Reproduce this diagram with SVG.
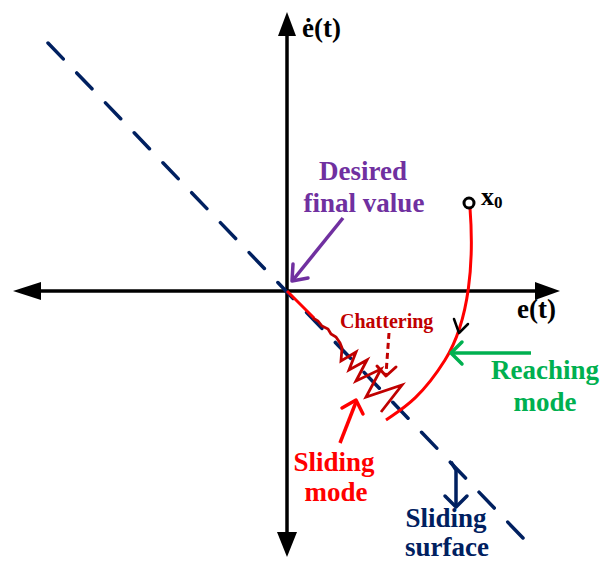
<svg xmlns="http://www.w3.org/2000/svg" width="601" height="562" viewBox="0 0 601 562">
<style>
.lbl{font-family:"Liberation Serif","Times New Roman",serif;font-weight:bold;font-size:27px}
.ax{stroke:#000;stroke-width:3.5;fill:none}
.head{fill:#000}
.chev{fill:none;stroke-linecap:round;stroke-linejoin:round}
</style>
<rect width="601" height="562" fill="#fff"/>
<g id="axes">
<line class="ax" x1="38" y1="291" x2="537" y2="291"/>
<line class="ax" x1="287" y1="34" x2="287" y2="534"/>
<polygon class="head" points="13,291 41,282 41,300"/>
<polygon class="head" points="560,291 535,282 535,300"/>
<polygon class="head" points="287,12 278,36 296,36"/>
<polygon class="head" points="287,557 277,532 297,532"/>
</g>
<g id="sliding-surface-line">
<line x1="48" y1="43" x2="523" y2="538" stroke="#002060" stroke-width="3.5" stroke-linecap="round" stroke-dasharray="22 19.5"/>
</g>
<g id="connectors">
<path d="M470,208 C474,260 470,320 445,360 S400,410 386,420" fill="none" stroke="#ff0000" stroke-width="3"/>
<path class="chev" d="M454,319 L459,333 L468,324" stroke="#000" stroke-width="2.5"/>
<line x1="287" y1="291" x2="314" y2="318" stroke="#ff0000" stroke-width="3"/>
<polyline fill="none" stroke="#c00000" stroke-width="2.8" stroke-linejoin="miter" points="313,318 318,321 322,326 328,329 331,334 336,337 340,343 342,348 341,361 356,352 349,370 367,360 356,381 381,369 366,397 402,385 381,412"/>
<path d="M343,218 L293,280" stroke="#7030a0" stroke-width="3.5" fill="none"/>
<path class="chev" d="M293,264 L292,281 L308,278" stroke="#7030a0" stroke-width="3.5"/>
<path d="M531,353 L452,353" stroke="#00b050" stroke-width="3.5" fill="none"/>
<path class="chev" d="M462,342 L451,353 L462,364" stroke="#00b050" stroke-width="3.5"/>
<path d="M340,443 L356,402" stroke="#ff0000" stroke-width="3.5" fill="none"/>
<path class="chev" d="M342,408 L356,400 L363,414" stroke="#ff0000" stroke-width="3.5"/>
<path d="M389,333 L386,374" stroke="#c00000" stroke-width="3" stroke-dasharray="6 4" fill="none"/>
<path class="chev" d="M377,366 L386,376 L396,367" stroke="#c00000" stroke-width="3"/>
<path d="M451,462 L456,470 L456,505" stroke="#002060" stroke-width="3.5" fill="none"/>
<path class="chev" d="M445,496 L456,507 L467,496" stroke="#002060" stroke-width="3.5"/>
</g>
<g id="x0">
<circle cx="469" cy="203" r="5" fill="#fff" stroke="#000" stroke-width="3"/>
<text class="lbl" x="481" y="205" style="font-size:26px">x<tspan dy="3" style="font-size:17px">0</tspan></text>
</g>
<g id="label-edot"><text class="lbl" x="302" y="37">ė(t)</text></g>
<g id="label-e"><text class="lbl" x="517" y="318">e(t)</text></g>
<g id="label-desired" fill="#7030a0">
<text class="lbl" x="363" y="180" text-anchor="middle">Desired</text>
<text class="lbl" x="364" y="212" text-anchor="middle">final value</text>
</g>
<g id="label-chattering" fill="#c00000"><text class="lbl" x="340" y="328" style="font-size:20px">Chattering</text></g>
<g id="label-reaching" fill="#00b050">
<text class="lbl" x="545" y="379" text-anchor="middle">Reaching</text>
<text class="lbl" x="545" y="411" text-anchor="middle">mode</text>
</g>
<g id="label-sliding-mode" fill="#ff0000">
<text class="lbl" x="334" y="471" text-anchor="middle">Sliding</text>
<text class="lbl" x="336" y="501" text-anchor="middle">mode</text>
</g>
<g id="label-sliding-surface" fill="#002060">
<text class="lbl" x="446" y="527" text-anchor="middle">Sliding</text>
<text class="lbl" x="447" y="556" text-anchor="middle">surface</text>
</g>
</svg>
